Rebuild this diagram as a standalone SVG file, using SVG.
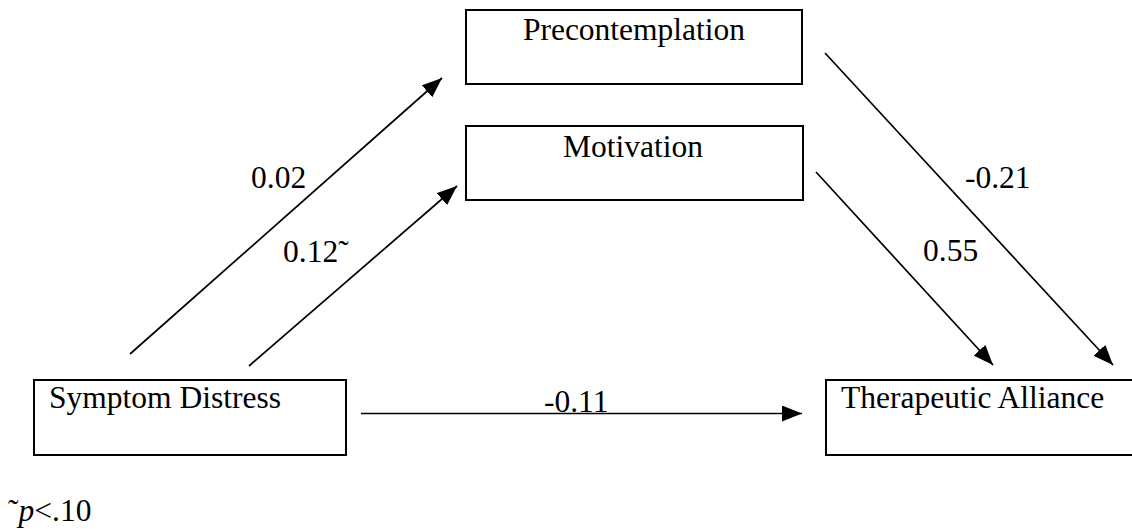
<svg xmlns="http://www.w3.org/2000/svg" width="1132" height="529" viewBox="0 0 1132 529">
  <style>
    .box { fill: #ffffff; stroke: #000000; stroke-width: 2; }
    .lbl { font-family: "Liberation Serif", "Times New Roman", serif; font-size: 31.5px; fill: #000000; }
    .conn { stroke: #000000; stroke-width: 1.7; fill: none; }
  </style>
  <defs>
    <marker id="arrow" markerUnits="userSpaceOnUse" markerWidth="21" markerHeight="16" refX="20" refY="8" orient="auto">
      <path d="M0,0 L20,8 L0,16 Z" fill="#000000"/>
    </marker>
  </defs>
  <rect width="1132" height="529" fill="#ffffff"/>

  <g id="node-precontemplation">
    <rect class="box" x="466" y="10" width="336" height="74"/>
    <text class="lbl" x="634" y="40" text-anchor="middle">Precontemplation</text>
  </g>
  <g id="node-motivation">
    <rect class="box" x="466" y="126" width="337" height="74"/>
    <text class="lbl" x="633" y="157" text-anchor="middle">Motivation</text>
  </g>
  <g id="node-symptom">
    <rect class="box" x="34" y="380" width="312" height="75"/>
    <text class="lbl" x="49" y="408">Symptom Distress</text>
  </g>
  <g id="node-alliance">
    <rect class="box" x="826" y="380" width="320" height="75"/>
    <text class="lbl" x="841" y="408">Therapeutic Alliance</text>
  </g>

  <g id="connectors">
    <line class="conn" x1="130" y1="354" x2="442" y2="78" marker-end="url(#arrow)"/>
    <line class="conn" x1="249" y1="366" x2="457" y2="186" marker-end="url(#arrow)"/>
    <line class="conn" x1="825" y1="53" x2="1113" y2="365" marker-end="url(#arrow)"/>
    <line class="conn" x1="816" y1="172" x2="993" y2="365" marker-end="url(#arrow)"/>
    <line class="conn" x1="361" y1="413.5" x2="802" y2="413.5" marker-end="url(#arrow)"/>
  </g>

  <g id="labels">
    <text class="lbl" x="251" y="188">0.02</text>
    <text class="lbl" x="283" y="262">0.12˜</text>
    <text class="lbl" x="965" y="188">-0.21</text>
    <text class="lbl" x="923" y="261">0.55</text>
    <text class="lbl" x="544" y="412">-0.11</text>
    <text class="lbl" x="8" y="521">˜<tspan font-style="italic">p</tspan>&lt;.10</text>
  </g>
</svg>
